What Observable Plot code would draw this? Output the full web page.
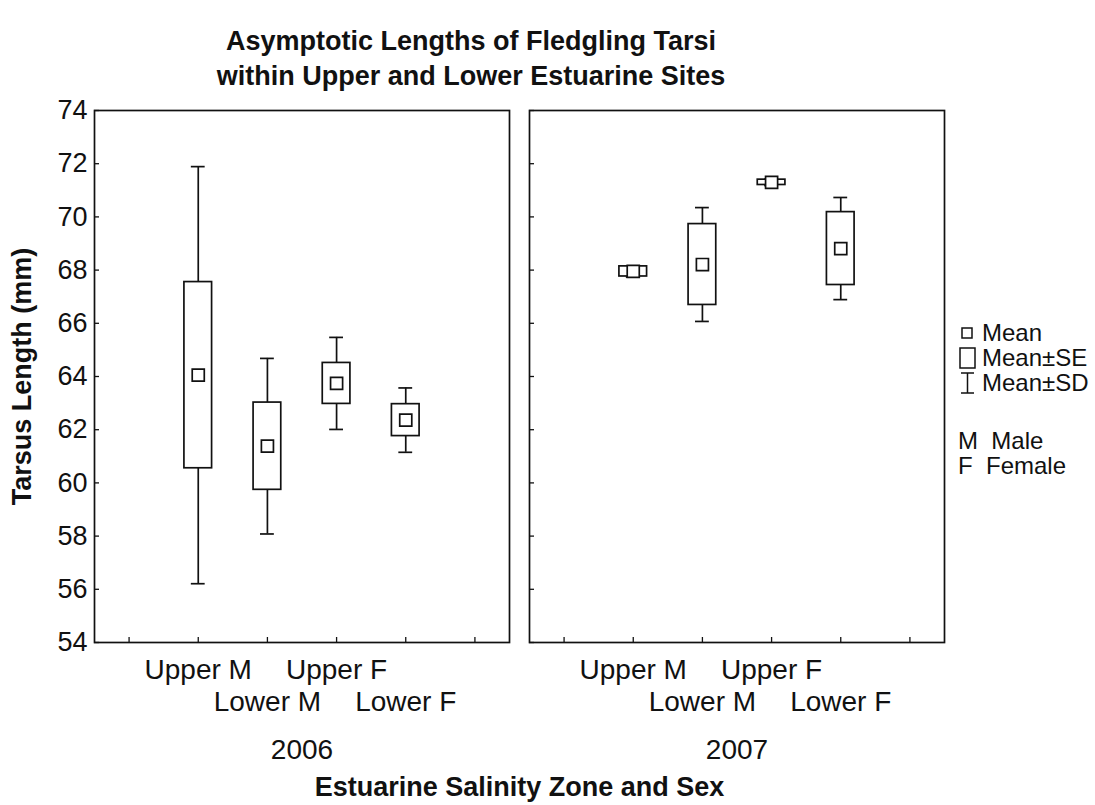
<!DOCTYPE html>
<html>
<head>
<meta charset="utf-8">
<script src="https://cdn.jsdelivr.net/npm/d3@7"></script>
<script src="https://cdn.jsdelivr.net/npm/@observablehq/plot@0.6"></script>
<style>
  html, body { margin: 0; padding: 0; background: #fff; }
  body { font-family: "Liberation Sans", Arial, Helvetica, sans-serif; color: #111; }
  #wrap { position: relative; width: 1095px; height: 805px; overflow: hidden; }
  #title { position: absolute; z-index: 2; left: 0; top: 24px; width: 942px;
           text-align: center; font-weight: bold; font-size: 27px; line-height: 35px; }
  #chart { position: absolute; left: 0; top: 0; }
  #chart svg { display: block; }
  #chart g[aria-label$="axis label"] { font-weight: bold; font-size: 27px; }
  #legend { position: absolute; z-index: 2; left: 958px; top: 320px; font-size: 24px; line-height: 25px; }
  #legend .row { display: flex; align-items: center; height: 25px; white-space: pre; }
  #legend .row svg { margin-right: 4px; }
  #legend .gap { height: 33px; }
</style>
</head>
<body>
<div id="wrap">
  <div id="chart"></div>
  <div id="title">Asymptotic Lengths of Fledgling Tarsi<br>within Upper and Lower Estuarine Sites</div>
  <div id="legend"></div>
</div>
<script>
// ---- data ----
const years = [2006, 2007];
const groups = ["Upper M", "Lower M", "Upper F", "Lower F"];
const mean2006 = [64.05, 61.38, 63.74, 62.36];
const se2006   = [3.50, 1.64, 0.77, 0.60];
const sd2006   = [7.84, 3.30, 1.73, 1.21];
const mean2007 = [67.95, 68.21, 71.30, 68.81];
const se2007   = [0.19, 1.52, 0.10, 1.37];
const sd2007   = [0.21, 2.14, 0.12, 1.92];
const yTicks = [54, 56, 58, 60, 62, 64, 66, 68, 70, 72, 74];
const xTickSlots = [0, 1, 2, 3, 4, 5];
const statLabels = ["Mean", "Mean\u00B1SE", "Mean\u00B1SD"];
const sexCodes = ["M", "F"];
const sexNames = ["Male", "Female"];

const series = {
  2006: {mean: mean2006, se: se2006, sd: sd2006},
  2007: {mean: mean2007, se: se2007, sd: sd2007}
};
const rows = years.flatMap(year => groups.map((group, i) => ({
  year, group, pos: i + 1,
  mean: series[year].mean[i], se: series[year].se[i], sd: series[year].sd[i]
})));

const boxHalf = 0.2, capHalf = 0.1;
const ink = "#111";
const sw = 1.7;
const fs = 27;
const fsx = 28;

const chart = Plot.plot({
  width: 1095,
  height: 805,
  marginTop: 110,
  marginBottom: 163,
  marginLeft: 94,
  marginRight: 151,
  style: {fontFamily: '"Liberation Sans", Arial, sans-serif', color: ink, background: "#fff"},
  fx: {domain: years, paddingInner: 0.046, paddingOuter: 0},
  x: {domain: [-0.5, 5.5]},
  y: {domain: [54, 74]},
  marks: [
    Plot.frame({stroke: ink, strokeWidth: sw}),
    // y tick labels + axis title (left panel only)
    Plot.axisY({ticks: yTicks, tickSize: 0, tickPadding: 7, fontSize: fs,
                label: "Tarsus Length (mm)", labelAnchor: "center", labelOffset: 83, labelArrow: "none"}),
    // inner y ticks in every panel
    Plot.axisY({ticks: yTicks, tickSize: -5, fill: "none", facetAnchor: null, label: null, stroke: ink, strokeWidth: 1.3}),
    // inner x ticks
    Plot.axisX({ticks: xTickSlots, tickSize: -5, fill: "none", label: null, stroke: ink, strokeWidth: 1.3}),
    // staggered category labels
    Plot.axisX({ticks: [1, 3], tickFormat: d => groups[d - 1], tickSize: 0, tickPadding: 17, fontSize: fsx, label: null}),
    Plot.axisX({ticks: [2, 4], tickFormat: d => groups[d - 1], tickSize: 0, tickPadding: 49, fontSize: fsx, label: null}),
    // year labels + x axis title
    Plot.axisFx({anchor: "bottom", tickSize: 0, tickPadding: 97, fontSize: fsx, tickFormat: d => String(d),
                 label: "Estuarine Salinity Zone and Sex", labelAnchor: "center", labelOffset: 153}),
    // whiskers (mean ± SD)
    Plot.ruleX(rows, {fx: "year", x: "pos", y1: d => d.mean - d.sd, y2: d => d.mean + d.sd, stroke: ink, strokeWidth: sw}),
    Plot.ruleY(rows, {fx: "year", y: d => d.mean + d.sd, x1: d => d.pos - capHalf, x2: d => d.pos + capHalf, stroke: ink, strokeWidth: sw}),
    Plot.ruleY(rows, {fx: "year", y: d => d.mean - d.sd, x1: d => d.pos - capHalf, x2: d => d.pos + capHalf, stroke: ink, strokeWidth: sw}),
    // boxes (mean ± SE)
    Plot.rect(rows, {fx: "year", x1: d => d.pos - boxHalf, x2: d => d.pos + boxHalf,
                     y1: d => d.mean - d.se, y2: d => d.mean + d.se, fill: "#fff", stroke: ink, strokeWidth: sw}),
    // mean markers
    Plot.dot(rows, {fx: "year", x: "pos", y: "mean", symbol: "square", r: 6.8, fill: "#fff", stroke: ink, strokeWidth: sw})
  ]
});
document.getElementById("chart").appendChild(chart);

// ---- legend ----
const legend = d3.select("#legend");
const symbols = [
  s => s.append("rect").attr("x", 4).attr("y", 8).attr("width", 10).attr("height", 10),
  s => s.append("rect").attr("x", 2).attr("y", 3).attr("width", 15).attr("height", 20),
  s => { s.append("path").attr("d", "M3,3H16M9.5,3V23M3,23H16"); }
];
statLabels.forEach((label, i) => {
  const row = legend.append("div").attr("class", "row");
  const svg = row.append("svg").attr("width", 20).attr("height", 26)
    .attr("fill", "#fff").attr("stroke", ink).attr("stroke-width", 1.5);
  symbols[i](svg);
  row.append("span").text(label);
});
legend.append("div").attr("class", "gap");
sexCodes.forEach((code, i) => {
  legend.append("div").attr("class", "row").text(code + "  " + sexNames[i]);
});
</script>
</body>
</html>
